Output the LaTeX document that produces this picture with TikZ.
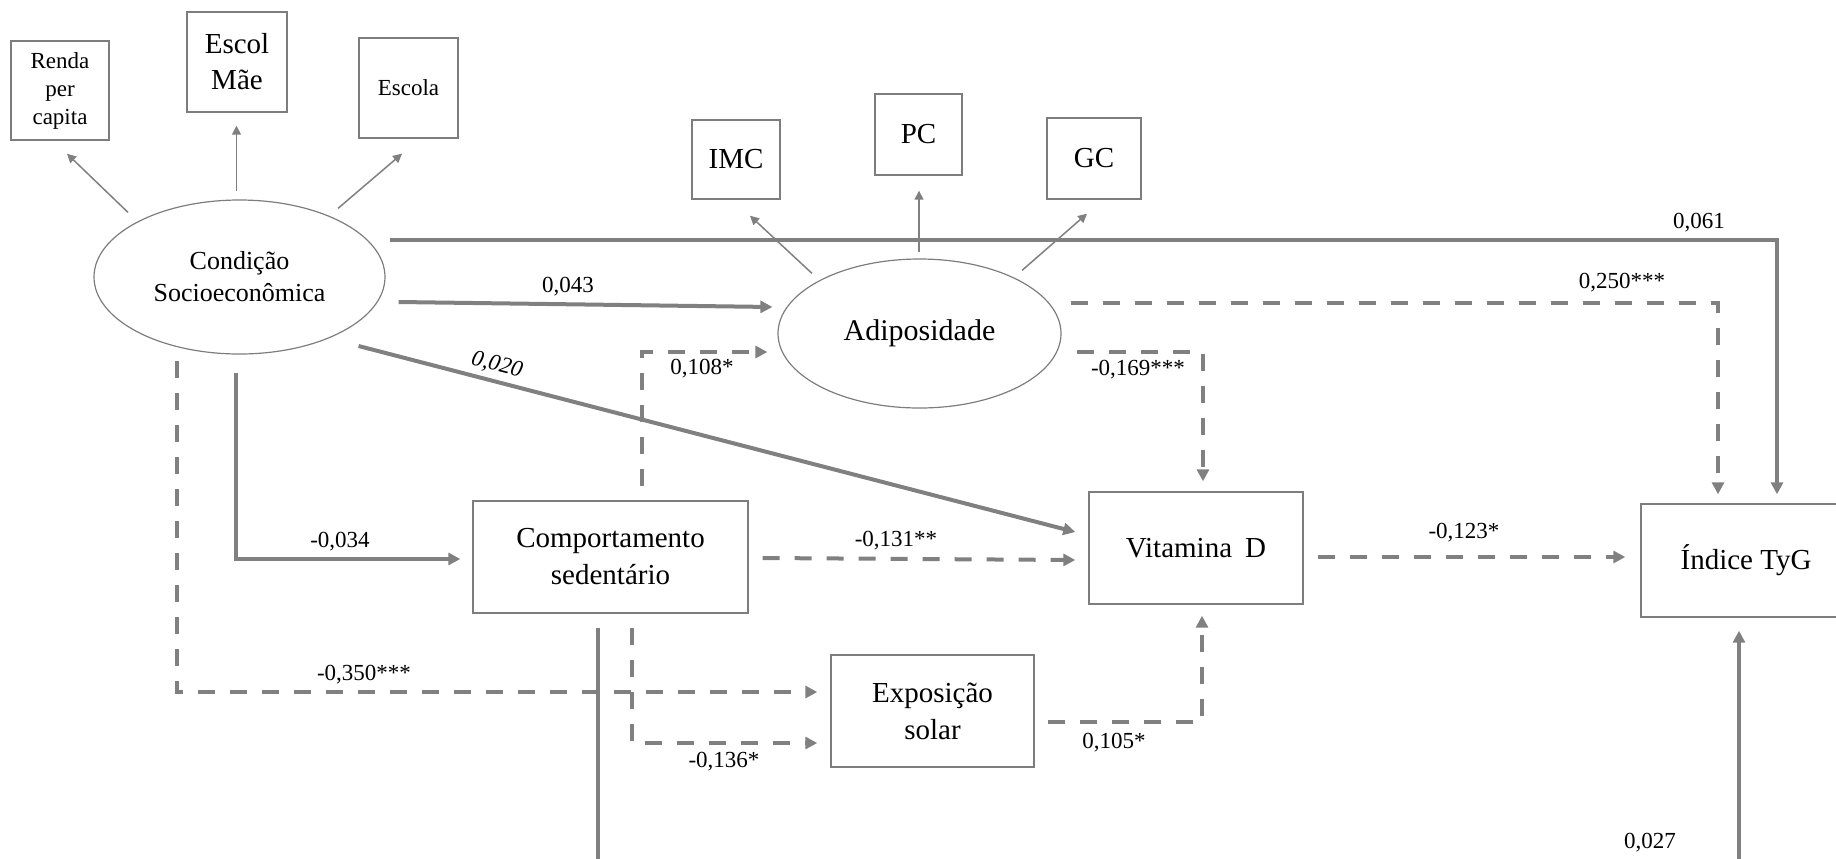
\documentclass[tikz,border=0pt]{standalone}
\usepackage{fontspec}
\setmainfont{Liberation Serif}
\usetikzlibrary{arrows.meta,shapes.geometric}
\definecolor{lg}{RGB}{128,128,128}
\definecolor{bd}{RGB}{125,125,125}
\begin{document}
\begin{tikzpicture}[x=0.5pt,y=-0.5pt,
  box/.style={draw=bd, line width=0.7pt, inner sep=0pt, align=center, font=\fontsize{14.5}{18.5}\selectfont},
  smallbox/.style={box, font=\fontsize{11.5}{14}\selectfont},
  lat/.style={ellipse, draw=bd, line width=0.6pt, inner sep=0pt, align=center},
  ind/.style={draw=lg, line width=0.75pt, -{Triangle[length=4.5pt,width=4.5pt]}},
  sol/.style={draw=lg, line width=2pt, -{Triangle[length=6pt,width=6pt]}},
  dsh/.style={draw=lg, line width=2pt, dash pattern=on 8.5pt off 7.5pt, -{Triangle[length=6pt,width=6pt]}},
  coef/.style={font=\fontsize{11.5}{14}\selectfont, inner sep=0pt},
]
\useasboundingbox (0,0) rectangle (1836,858);
\clip (0,0) rectangle (1836,858);

% nodes
\node[smallbox, minimum width=49pt, minimum height=49.5pt] (renda) at (60,90.5) {Renda\\per\\capita};
\node[box, minimum width=50pt, minimum height=50pt, font=\fontsize{14.5}{18}\selectfont] (escol) at (237,62) {Escol\\Mãe};
\node[smallbox, minimum width=49.5pt, minimum height=50pt] (escola) at (408.5,88) {Escola};
\node[lat, minimum width=145.5pt, minimum height=77pt, font=\fontsize{13}{16}\selectfont] (ses) at (239.5,277) {Condição\\Socioeconômica};

\node[box, minimum width=44pt, minimum height=39.5pt] (imc) at (736,159.5) {IMC};
\node[box, minimum width=43.5pt, minimum height=40.5pt] (pc) at (918.5,134.5) {PC};
\node[box, minimum width=47pt, minimum height=40.5pt] (gc) at (1094,158.5) {GC};
\node[lat, minimum width=141.5pt, minimum height=74.5pt, font=\fontsize{15}{18}\selectfont] (adip) at (919.5,333.5) {Adiposidade};

\node[box, minimum width=137.5pt, minimum height=56pt] (comp) at (610.5,557) {Comportamento\\sedentário};
\node[box, minimum width=107pt, minimum height=56pt] (vitd) at (1196,548) {Vitamina\hspace{0.45em}D};
\node[box, minimum width=101.5pt, minimum height=56pt] (expo) at (932.5,711) {Exposição\\solar};
\node[box, minimum width=105pt, minimum height=56.5pt] (tyg) at (1746,560.5) {Índice TyG};

\coordinate (bot) at (0,872);

% indicator arrows
\draw[ind] ([xshift=-55.75pt,yshift=-6.5pt]ses.north) -- ([xshift=3.5pt,yshift=-6.5pt]renda.south);
\draw[ind] ([xshift=-1.5pt,yshift=4pt]ses.north) -- ([xshift=-0.25pt,yshift=-6.5pt]escol.south);
\draw[ind] ([xshift=49.25pt,yshift=-4.5pt]ses.north) -- ([xshift=-3.25pt,yshift=-7.5pt]escola.south);
\draw[ind] ([xshift=-53.75pt,yshift=-7.5pt]adip.north) -- ([xshift=7pt,yshift=-8pt]imc.south);
\draw[ind] ([xshift=-0.25pt,yshift=3pt]adip.north) -- ([xshift=0.25pt,yshift=-7.5pt]pc.south);
\draw[ind] ([xshift=51.25pt,yshift=-6pt]adip.north) -- ([xshift=-3.5pt,yshift=-7pt]gc.south);

% solid paths
\draw[sol] ([xshift=2pt,yshift=18.5pt]ses.east) -| ([xshift=15.5pt,yshift=4.5pt]tyg.north);
\draw[sol] ([xshift=6.5pt,yshift=-12.5pt]ses.east) -- ([xshift=-2.5pt,yshift=13.25pt]adip.west);
\draw[sol] ([xshift=-13.5pt,yshift=-34.5pt]ses.east) -- ([xshift=-6.5pt,yshift=8pt]vitd.west);
\draw[sol] ([xshift=-1.75pt,yshift=-9pt]ses.south) |- ([xshift=-6pt,yshift=-1pt]comp.west);
\draw[sol] ([xshift=-6.25pt,yshift=-7pt]comp.south) coordinate (c0) -- (c0 |- bot) -| ([xshift=-3.5pt,yshift=-6.5pt]tyg.south);

% dashed paths
\draw[dsh] ([xshift=-31.25pt,yshift=-3pt]ses.south) |- ([xshift=-6.5pt,yshift=9.5pt]expo.west);
\draw[dsh] ([xshift=15.75pt,yshift=7pt]comp.north) |- ([xshift=-5pt,yshift=-9.25pt]adip.west);
\draw[dsh] ([xshift=7pt,yshift=-0.5pt]comp.east) -- ([xshift=-6.5pt,yshift=-6pt]vitd.west);
\draw[dsh] ([xshift=10.75pt,yshift=-7pt]comp.south) |- ([xshift=-6.5pt,yshift=-16pt]expo.west);
\draw[dsh] ([xshift=4.5pt,yshift=15.25pt]adip.east) -| ([xshift=-14pt,yshift=4.5pt]tyg.north);
\draw[dsh] ([xshift=7.5pt,yshift=-9.25pt]adip.east) -| ([xshift=3.5pt,yshift=5pt]vitd.north);
\draw[dsh] ([xshift=7pt,yshift=-4.5pt]vitd.east) -- ([xshift=-7.5pt,yshift=1.75pt]tyg.west);
\draw[dsh] ([xshift=6.5pt,yshift=-5.5pt]expo.east) -| ([xshift=3pt,yshift=-5.5pt]vitd.south);

% coefficient labels
\node[coef] (l061) at (1699,223) {0,061};
\node[coef] (l250) at (1622,283) {0,250***};
\node[coef] (l043) at (568,287) {0,043};
\node[coef, rotate=-14.5, font=\fontsize{11.5}{14}\selectfont\itshape] (l020) at (497,365) {0,020};
\node[coef] (l108) at (702,369) {0,108*};
\node[coef] (l169) at (1138,370) {-0,169***};
\node[coef] (l034) at (340,542) {-0,034};
\node[coef] (l131) at (896,541) {-0,131**};
\node[coef] (l123) at (1464,533) {-0,123*};
\node[coef] (l350) at (364,675) {-0,350***};
\node[coef] (l136) at (724,762) {-0,136*};
\node[coef] (l105) at (1114,743) {0,105*};
\node[coef] (l027) at (1650,843) {0,027};
\end{tikzpicture}
\end{document}
